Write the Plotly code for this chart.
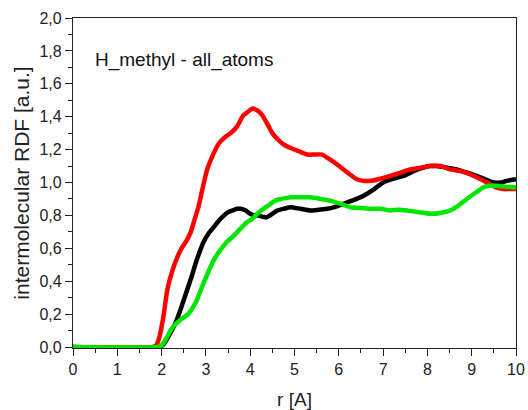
import plotly.graph_objects as go

r_red = [0, 1.8, 1.88, 1.95, 2.05, 2.13, 2.25, 2.36, 2.45, 2.55, 2.66, 2.75, 2.84, 2.93, 3.03, 3.18, 3.3, 3.45,
         3.56, 3.7, 3.85, 3.95, 4.05, 4.15, 4.27, 4.4, 4.5, 4.63, 4.76, 4.91, 5.1, 5.29, 5.45, 5.62, 5.8, 5.96,
         6.2, 6.41, 6.55, 6.71, 6.9, 7.16, 7.4, 7.61, 7.85, 8.06, 8.3, 8.51, 8.75, 8.96, 9.2, 9.41, 9.55, 9.71,
         9.85, 10.0]
g_red = [0, 0, 0.01, 0.06, 0.2, 0.35, 0.47, 0.55, 0.6, 0.64, 0.70, 0.78, 0.86, 0.97, 1.08, 1.18, 1.24, 1.28,
         1.30, 1.34, 1.41, 1.43, 1.45, 1.44, 1.41, 1.35, 1.30, 1.26, 1.23, 1.21, 1.19, 1.17, 1.17, 1.17, 1.14, 1.11,
         1.06, 1.02, 1.01, 1.01, 1.02, 1.04, 1.06, 1.08, 1.09, 1.10, 1.10, 1.08, 1.07, 1.05, 1.02, 0.99, 0.97, 0.96,
         0.96, 0.96]

r_black = [0, 1.95, 2.02, 2.1, 2.21, 2.32, 2.43, 2.58, 2.68, 2.77, 2.86, 2.95, 3.06, 3.18, 3.3, 3.41, 3.5, 3.6,
           3.7, 3.78, 3.9, 4.0, 4.1, 4.19, 4.3, 4.38, 4.5, 4.61, 4.75, 4.91, 5.14, 5.36, 5.55, 5.74, 5.9, 6.1, 6.3,
           6.56, 6.8, 7.0, 7.2, 7.46, 7.7, 7.91, 8.05, 8.2, 8.45, 8.66, 8.9, 9.11, 9.3, 9.49, 9.65, 9.79, 10.0]
g_black = [0, 0, 0.01, 0.04, 0.09, 0.15, 0.23, 0.35, 0.43, 0.51, 0.58, 0.64, 0.69, 0.73, 0.77, 0.80, 0.82, 0.83,
           0.84, 0.84, 0.83, 0.81, 0.80, 0.80, 0.79, 0.79, 0.81, 0.83, 0.84, 0.85, 0.84, 0.83, 0.835, 0.84, 0.85,
           0.87, 0.89, 0.92, 0.96, 1.0, 1.02, 1.04, 1.07, 1.09, 1.10, 1.10, 1.09, 1.08, 1.06, 1.04, 1.02, 1.00,
           1.00, 1.01, 1.02]

r_green = [0, 1.9, 2.0, 2.1, 2.2, 2.28, 2.4, 2.5, 2.6, 2.68, 2.77, 2.86, 2.95, 3.06, 3.18, 3.3, 3.48, 3.6, 3.71,
           3.82, 3.93, 4.05, 4.16, 4.3, 4.46, 4.57, 4.68, 4.8, 4.91, 5.14, 5.36, 5.6, 5.81, 6.05, 6.26, 6.5, 6.71,
           6.95, 7.16, 7.35, 7.54, 7.8, 8.06, 8.3, 8.51, 8.7, 8.89, 9.1, 9.26, 9.4, 9.56, 9.75, 10.0]
g_green = [0, 0, 0.01, 0.05, 0.1, 0.13, 0.16, 0.18, 0.2, 0.23, 0.27, 0.33, 0.39, 0.46, 0.53, 0.58, 0.64, 0.67,
           0.70, 0.73, 0.76, 0.78, 0.81, 0.84, 0.87, 0.89, 0.90, 0.905, 0.91, 0.91, 0.91, 0.90, 0.89, 0.87, 0.85,
           0.845, 0.84, 0.84, 0.83, 0.835, 0.83, 0.82, 0.81, 0.815, 0.83, 0.86, 0.90, 0.94, 0.97, 0.98, 0.98,
           0.975, 0.97]

series = [
    (r_black, g_black, "#000000"),
    (r_red, g_red, "#ff0000"),
    (r_green, g_green, "#00e600"),
]

fig = go.Figure()
for rx, gy, col in series:
    fig.add_trace(go.Scatter(x=rx, y=gy, mode="lines",
                             line=dict(color=col, width=4.5, shape="spline", smoothing=0.6),
                             showlegend=False, hoverinfo="skip"))

FONT = "Liberation Sans, Arial, sans-serif"
axis_common = dict(
    showline=True, linecolor="#222", linewidth=1.2, mirror=True, automargin=False,
    showgrid=False, zeroline=False, ticks="outside", ticklen=7, tickwidth=1,
    tickcolor="#222",
    tickfont=dict(family=FONT, size=16, color="#222"),
)

fig.update_layout(
    width=528, height=410,
    margin=dict(l=73, r=12, t=18, b=62),
    paper_bgcolor="white", plot_bgcolor="white",
    separators=",.",
    font=dict(family=FONT, color="#222"),
    xaxis=dict(range=[0, 10], dtick=1, tick0=0,
               title=dict(text="r [A]", font=dict(size=19), standoff=16),
               minor=dict(ticks="outside", ticklen=4, dtick=0.5, tickcolor="#222"),
               **axis_common),
    yaxis=dict(range=[-0.006, 2.0], dtick=0.2, tick0=0, tickformat=".1f",
               title=dict(text="intermolecular RDF [a.u.]", font=dict(size=21), standoff=4),
               minor=dict(ticks="outside", ticklen=4, dtick=0.1, tickcolor="#222"),
               **axis_common),
    annotations=[dict(text="H_methyl - all_atoms", x=0.045, y=0.873, xref="paper", yref="paper",
                      xanchor="left", yanchor="middle", showarrow=False,
                      font=dict(size=19, color="#111"))],
)

fig.write_html("out.html", config={"displayModeBar": False},
               post_script="document.body.style.margin='0';document.body.style.overflow='hidden';")
